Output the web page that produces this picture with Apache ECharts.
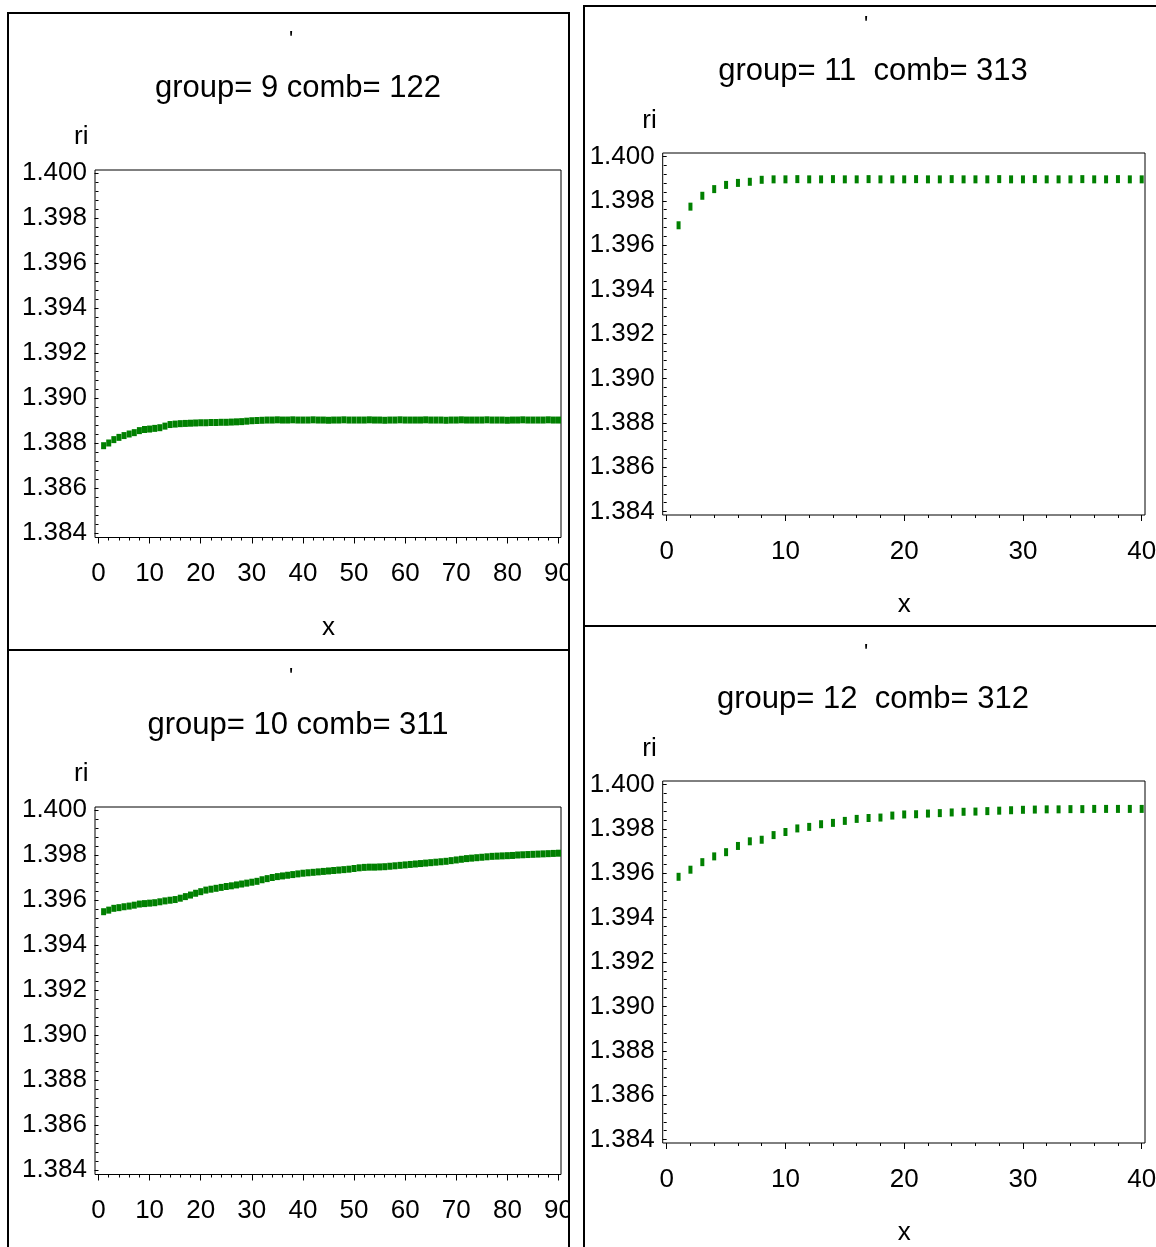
<!DOCTYPE html>
<html>
<head>
<meta charset="utf-8">
<script src="https://cdn.jsdelivr.net/npm/echarts@6/dist/echarts.min.js"></script>
<style>
  html, body { margin: 0; padding: 0; background: #fff; width: 1156px; height: 1247px; overflow: hidden; }
  .chart { position: absolute; }
  .frame { position: absolute; border: 2px solid #000; box-sizing: border-box; pointer-events: none; }
</style>
</head>
<body>
<div id="c1" class="chart" style="left:8px;top:13px;width:561px;height:637px;"></div>
<div id="c3" class="chart" style="left:8px;top:650px;width:561px;height:597px;"></div>
<div id="c2" class="chart" style="left:584px;top:6px;width:572px;height:620px;"></div>
<div id="c4" class="chart" style="left:584px;top:634px;width:572px;height:613px;"></div>
<div class="frame" style="left:7px;top:12px;width:563px;height:639px;"></div>
<div class="frame" style="left:7px;top:649px;width:563px;height:620px;"></div>
<div class="frame" style="left:583px;top:5px;width:600px;height:622px;"></div>
<div class="frame" style="left:583px;top:625px;width:600px;height:640px;"></div>
<script>
// ---- data ----
const titles = ["group= 9 comb= 122", "group= 11  comb= 313", "group= 10 comb= 311", "group= 12  comb= 312"];
const yTicks = { min: 1.384, max: 1.400, interval: 0.002 };
const xTicks90 = { min: 0, max: 90, interval: 10 };
const xTicks40 = { min: 0, max: 40, interval: 10 };

const x90 = [1,2,3,4,5,6,7,8,9,10,11,12,13,14,15,16,17,18,19,20,21,22,23,24,25,26,27,28,29,30,
  31,32,33,34,35,36,37,38,39,40,41,42,43,44,45,46,47,48,49,50,51,52,53,54,55,56,57,58,59,60,
  61,62,63,64,65,66,67,68,69,70,71,72,73,74,75,76,77,78,79,80,81,82,83,84,85,86,87,88,89,90];
const x40 = [1,2,3,4,5,6,7,8,9,10,11,12,13,14,15,16,17,18,19,20,
  21,22,23,24,25,26,27,28,29,30,31,32,33,34,35,36,37,38,39,40];

const ri_g9 = [1.38788,1.38800,1.38815,1.38825,1.38833,1.38840,1.38846,1.38855,1.38860,1.38862,
  1.38865,1.38868,1.38875,1.38882,1.38884,1.38886,1.38887,1.38888,1.38889,1.38890,
  1.38890,1.38891,1.38891,1.38892,1.38892,1.38893,1.38894,1.38895,1.38897,1.38899,
  1.38900,1.38901,1.38902,1.38902,1.38903,1.38902,1.38902,1.38903,1.38902,1.38902,
  1.38902,1.38903,1.38902,1.38902,1.38901,1.38902,1.38902,1.38903,1.38902,1.38902,
  1.38902,1.38902,1.38903,1.38902,1.38902,1.38901,1.38902,1.38902,1.38903,1.38902,
  1.38902,1.38902,1.38902,1.38903,1.38902,1.38902,1.38902,1.38901,1.38902,1.38902,
  1.38903,1.38902,1.38902,1.38902,1.38902,1.38903,1.38902,1.38902,1.38902,1.38901,
  1.38902,1.38902,1.38903,1.38902,1.38902,1.38902,1.38902,1.38903,1.38902,1.38902];

const ri_g10 = [1.39548,1.39555,1.39563,1.39566,1.39570,1.39573,1.39577,1.39582,1.39584,1.39586,
  1.39588,1.39592,1.39596,1.39599,1.39602,1.39608,1.39615,1.39622,1.39630,1.39637,
  1.39644,1.39648,1.39652,1.39656,1.39660,1.39663,1.39667,1.39671,1.39675,1.39679,
  1.39683,1.39690,1.39695,1.39700,1.39704,1.39707,1.39710,1.39713,1.39716,1.39719,
  1.39721,1.39723,1.39725,1.39727,1.39729,1.39731,1.39733,1.39735,1.39737,1.39740,
  1.39743,1.39745,1.39746,1.39746,1.39747,1.39748,1.39750,1.39752,1.39754,1.39756,
  1.39758,1.39760,1.39762,1.39764,1.39766,1.39768,1.39770,1.39772,1.39775,1.39778,
  1.39781,1.39784,1.39786,1.39788,1.39790,1.39792,1.39794,1.39795,1.39796,1.39797,
  1.39798,1.39800,1.39801,1.39802,1.39803,1.39804,1.39805,1.39806,1.39807,1.39808];

const ri_g11 = [1.39690,1.39774,1.39823,1.39853,1.39872,1.39881,1.39886,1.39895,1.39897,1.39897,
  1.39898,1.39897,1.39897,1.39898,1.39897,1.39897,1.39898,1.39897,1.39897,1.39897,
  1.39898,1.39897,1.39897,1.39898,1.39897,1.39897,1.39897,1.39898,1.39897,1.39897,
  1.39898,1.39897,1.39897,1.39897,1.39898,1.39897,1.39897,1.39898,1.39897,1.39897];

const ri_g12 = [1.39584,1.39616,1.39650,1.39676,1.39695,1.39723,1.39744,1.39751,1.39772,1.39786,
  1.39802,1.39809,1.39821,1.39827,1.39836,1.39845,1.39849,1.39851,1.39860,1.39865,
  1.39866,1.39869,1.39871,1.39874,1.39877,1.39878,1.39880,1.39882,1.39884,1.39886,
  1.39887,1.39888,1.39888,1.39889,1.39889,1.39890,1.39890,1.39890,1.39890,1.39890];

// ---- rendering ----
const FONT = "'Liberation Sans', Arial, Helvetica, sans-serif";
const GREEN = '#008000';

function buildOption(cfg) {
  const L = cfg.layout;
  return {
    animation: false,
    textStyle: { fontFamily: FONT },
    title: [
      { text: "'", left: L.tickX, top: L.tickY, textAlign: 'center',
        textStyle: { fontFamily: FONT, fontSize: 22, fontWeight: 'normal', color: '#000' } },
      { text: cfg.title, left: L.titleX, top: L.titleY, textAlign: 'center',
        textStyle: { fontFamily: FONT, fontSize: 31, fontWeight: 'normal', color: '#000' } }
    ],
    grid: [
      { left: L.gl, top: L.gt, width: L.gw, height: L.gh, show: false, containLabel: false, outerBoundsMode: 'none' },
      { left: L.fl, top: L.ft, width: L.fw, height: L.fh, show: true, borderColor: '#000', borderWidth: 1,
        backgroundColor: 'transparent', outerBoundsMode: 'none' }
    ],
    xAxis: [
      { gridIndex: 0, type: 'value', min: cfg.xt.min, max: cfg.xt.max, interval: cfg.xt.interval,
        offset: L.xoff,
        name: 'x', nameLocation: 'middle', nameGap: L.xNameGap,
        nameTextStyle: { fontFamily: FONT, fontSize: 26, color: '#000' },
        axisLine: { show: false },
        axisTick: { show: true, inside: false, length: 6, lineStyle: { color: '#000', width: 1 } },
        minorTick: { show: true, splitNumber: 5, length: 3, lineStyle: { color: '#000', width: 1 } },
        splitLine: { show: false },
        axisLabel: { show: true, margin: L.xLabMargin, color: '#000', fontFamily: FONT, fontSize: 26, hideOverlap: false }
      },
      { gridIndex: 1, type: 'value', show: false, min: 0, max: 1 }
    ],
    yAxis: [
      { gridIndex: 0, type: 'value', min: yTicks.min, max: yTicks.max, interval: yTicks.interval,
        offset: L.yoff,
        name: 'ri', nameLocation: 'end', nameGap: 23,
        nameTextStyle: { fontFamily: FONT, fontSize: 26, color: '#000', align: 'right', padding: [0, 10, 0, 0] },
        axisLine: { show: false },
        axisTick: { show: true, inside: false, length: 4, lineStyle: { color: '#000', width: 1 } },
        minorTick: { show: true, splitNumber: 5, length: 3, lineStyle: { color: '#000', width: 1 } },
        splitLine: { show: false },
        axisLabel: { show: true, margin: 8, color: '#000', fontFamily: FONT, fontSize: 26,
          formatter: function (v) { return v.toFixed(3); } }
      },
      { gridIndex: 1, type: 'value', show: false, min: 0, max: 1 }
    ],
    series: [{
      type: 'scatter', xAxisIndex: 0, yAxisIndex: 0,
      symbol: 'rect', symbolSize: cfg.sym,
      itemStyle: { color: GREEN, opacity: 1 },
      silent: true,
      data: cfg.xs.map(function (x, i) { return [x, cfg.ys[i]]; })
    }]
  };
}

const layoutLeft = { tickX: 278, tickY: 11, titleX: 285, titleY: 55,
  gl: 90.5, gt: 160, gw: 460, gh: 360,
  fl: 87, ft: 157, fw: 466, fh: 367.5,
  xoff: 4.5, yoff: 3.5, xNameGap: 77, xLabMargin: 23 };
const layoutRight = { tickX: 277, tickY: 3, titleX: 284, titleY: 45,
  gl: 82.7, gt: 150.5, gw: 475, gh: 355,
  fl: 78.7, ft: 147, fw: 482.3, fh: 362,
  xoff: 3.5, yoff: 4, xNameGap: 77, xLabMargin: 24 };

const panels = [
  { id: 'c1', title: titles[0], xt: xTicks90, xs: x90, ys: ri_g9,  layout: layoutLeft,  sym: [5, 7] },
  { id: 'c2', title: titles[1], xt: xTicks40, xs: x40, ys: ri_g11, layout: layoutRight, sym: [4, 8] },
  { id: 'c3', title: titles[2], xt: xTicks90, xs: x90, ys: ri_g10, layout: layoutLeft,  sym: [5, 7] },
  { id: 'c4', title: titles[3], xt: xTicks40, xs: x40, ys: ri_g12, layout: layoutRight, sym: [4, 8] }
];

panels.forEach(function (p) {
  const chart = echarts.init(document.getElementById(p.id), null, { renderer: 'canvas' });
  chart.setOption(buildOption(p));
});
</script>
</body>
</html>
